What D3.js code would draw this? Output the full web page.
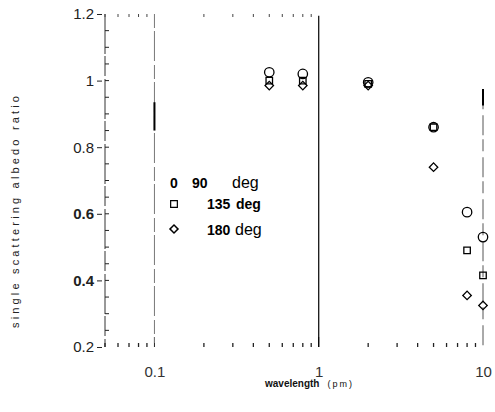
<!DOCTYPE html>
<html><head><meta charset="utf-8">
<script src="https://cdn.jsdelivr.net/npm/d3@7"></script>
<style>body{margin:0;background:#fff}svg{display:block}</style>
</head><body>
<svg id="c" width="495" height="412"></svg>
<script>
const wavelengths = [0.5, 0.8, 2, 5, 8, 10];
const ratio90  = [1.025, 1.02, 0.995, 0.86, 0.605, 0.53];
const ratio135 = [1.0, 1.0, 0.99, 0.86, 0.49, 0.415];
const ratio180 = [0.985, 0.985, 0.985, 0.74, 0.355, 0.325];
const seriesNames = ["90 deg", "135 deg", "180 deg"];
const yTicks = [0.2, 0.4, 0.6, 0.8, 1, 1.2];
const xTicks = [0.1, 1, 10];

const svg = d3.select("#c");
const x = d3.scaleLog().domain([0.05, 10]).range([105, 483]);
const y = d3.scaleLinear().domain([0.2, 1.2]).range([347, 14]);
const font = "Liberation Sans, Arial, sans-serif";

// left axis line
svg.append("line").attr("x1",105).attr("x2",105).attr("y1",y(1.2)).attr("y2",y(0.2))
  .attr("stroke","#333").attr("stroke-width",1).attr("stroke-dasharray","40,2,20,3");

// y minor ticks (inward)
const yMinor = d3.range(0.25, 1.2, 0.05);
svg.selectAll(".ym").data(yMinor).join("line")
  .attr("x1",105).attr("x2",109).attr("y1",d=>y(d)).attr("y2",d=>y(d))
  .attr("stroke","#222").attr("stroke-width",1);

// y major ticks + labels
const yg = svg.append("g").attr("transform","translate(105,0)")
  .call(d3.axisLeft(y).tickValues(yTicks).tickSize(5).tickPadding(6).tickFormat(d3.format("~g")));
yg.select(".domain").remove();
yg.selectAll("line").attr("stroke","#222").attr("transform","translate(-3,0)");
yg.selectAll("text").attr("font-family",font).attr("font-size",15).attr("fill","#222")
  .attr("font-weight",d=> (d===0.6||d===0.4)?"bold":"normal");

// x minor ticks bottom
const xMinor = [];
[0.01,0.1,1].forEach(b=>{for(let k=2;k<=9;k++){const v=b*k; if(v>=0.05&&v<10) xMinor.push(v);}});
svg.selectAll(".xm").data(xMinor).join("line")
  .attr("x1",d=>x(d)).attr("x2",d=>x(d)).attr("y1",y(0.2)).attr("y2",y(0.2)-4)
  .attr("stroke","#222").attr("stroke-width",1.3);
// top minor ticks (dotted)
svg.selectAll(".xt").data(xMinor.filter(d=>d<1)).join("line")
  .attr("x1",d=>x(d)).attr("x2",d=>x(d)).attr("y1",y(1.2)).attr("y2",y(1.2)+3)
  .attr("stroke","#444").attr("stroke-width",1);

// x major ticks + labels
const xg = svg.append("g").attr("transform",`translate(0,${y(0.2)})`)
  .call(d3.axisBottom(x).tickValues(xTicks).tickSize(0).tickPadding(19).tickFormat(d3.format("~g")));
xg.select(".domain").remove();
xg.selectAll("text").attr("font-family",font).attr("font-size",15).attr("fill","#333");
svg.selectAll(".xM").data([0.1,1]).join("line")
  .attr("x1",d=>x(d)).attr("x2",d=>x(d)).attr("y1",y(0.2)).attr("y2",y(0.2)-10)
  .attr("stroke","#222");

// vertical reference lines
svg.append("line").attr("x1",x(0.1)).attr("x2",x(0.1)).attr("y1",y(1.2)).attr("y2",y(0.2)-4)
  .attr("stroke","#777").attr("stroke-width",1).attr("stroke-dasharray","14,3,30,4");
svg.append("line").attr("x1",x(0.1)).attr("x2",x(0.1)).attr("y1",y(0.935)).attr("y2",y(0.85))
  .attr("stroke","#000").attr("stroke-width",2);
svg.append("line").attr("x1",x(1)).attr("x2",x(1)).attr("y1",y(1.195)).attr("y2",y(0.2))
  .attr("stroke","#000").attr("stroke-width",1.2);
svg.append("line").attr("x1",x(10)).attr("x2",x(10)).attr("y1",y(0.95)).attr("y2",y(0.2))
  .attr("stroke","#555").attr("stroke-width",1).attr("stroke-dasharray","12,6,20,4");
svg.append("line").attr("x1",x(10)).attr("x2",x(10)).attr("y1",y(0.975)).attr("y2",y(0.925))
  .attr("stroke","#000").attr("stroke-width",2);

// markers
const sym = [d3.symbolCircle, d3.symbolSquare, d3.symbolSquare];
const sizes = [70, 42, 36];
const rot = [0, 0, 45];
[ratio90, ratio135, ratio180].forEach((vals,i)=>{
  svg.append("g").selectAll("path").data(wavelengths.map((w,j)=>[w,vals[j]])).join("path")
    .attr("d", d3.symbol().type(sym[i]).size(sizes[i]))
    .attr("transform",d=>`translate(${x(d[0])},${y(d[1])}) rotate(${rot[i]})`)
    .attr("fill","none").attr("stroke","#000").attr("stroke-width",1.3);
});

// legend
const leg = svg.append("g").attr("font-family",font).attr("font-size",14).attr("fill","#000");
const ly = [188, 209, 235];
leg.append("text").attr("x",170).attr("y",ly[0]).attr("font-weight","bold").text("0");
leg.append("path").attr("d",d3.symbol().type(d3.symbolSquare).size(45)).attr("transform",`translate(174,${ly[1]-5})`)
  .attr("fill","none").attr("stroke","#000").attr("stroke-width",1.2);
leg.append("path").attr("d",d3.symbol().type(d3.symbolSquare).size(32)).attr("transform",`translate(174,${ly[2]-6}) rotate(45)`)
  .attr("fill","none").attr("stroke","#000").attr("stroke-width",1.5);
const lx = [192, 207, 207];
seriesNames.forEach((s,i)=>{
  const [n,u] = s.split(" ");
  leg.append("text").attr("x",lx[i]).attr("y",ly[i]).attr("font-weight","bold").text(n);
  leg.append("text").attr("x",[232,236,235][i]).attr("y",ly[i])
    .attr("font-weight",i===1?"bold":"normal").attr("font-size",i===1?14:16).text(u);
});

// axis titles
svg.append("text").attr("transform","translate(19,212) rotate(-90)").attr("text-anchor","middle")
  .attr("font-family",font).attr("font-size",11).attr("fill","#222")
  .attr("textLength",232).attr("lengthAdjust","spacing").text("single scattering albedo ratio");
const xl = svg.append("text").attr("x",265).attr("y",387).attr("font-family",font).attr("fill","#111");
xl.append("tspan").attr("font-size",10).attr("font-weight","bold").text("wavelength");
xl.append("tspan").attr("font-size",9).attr("dx",8).attr("letter-spacing",2).text("(pm)");
</script>
</body></html>
